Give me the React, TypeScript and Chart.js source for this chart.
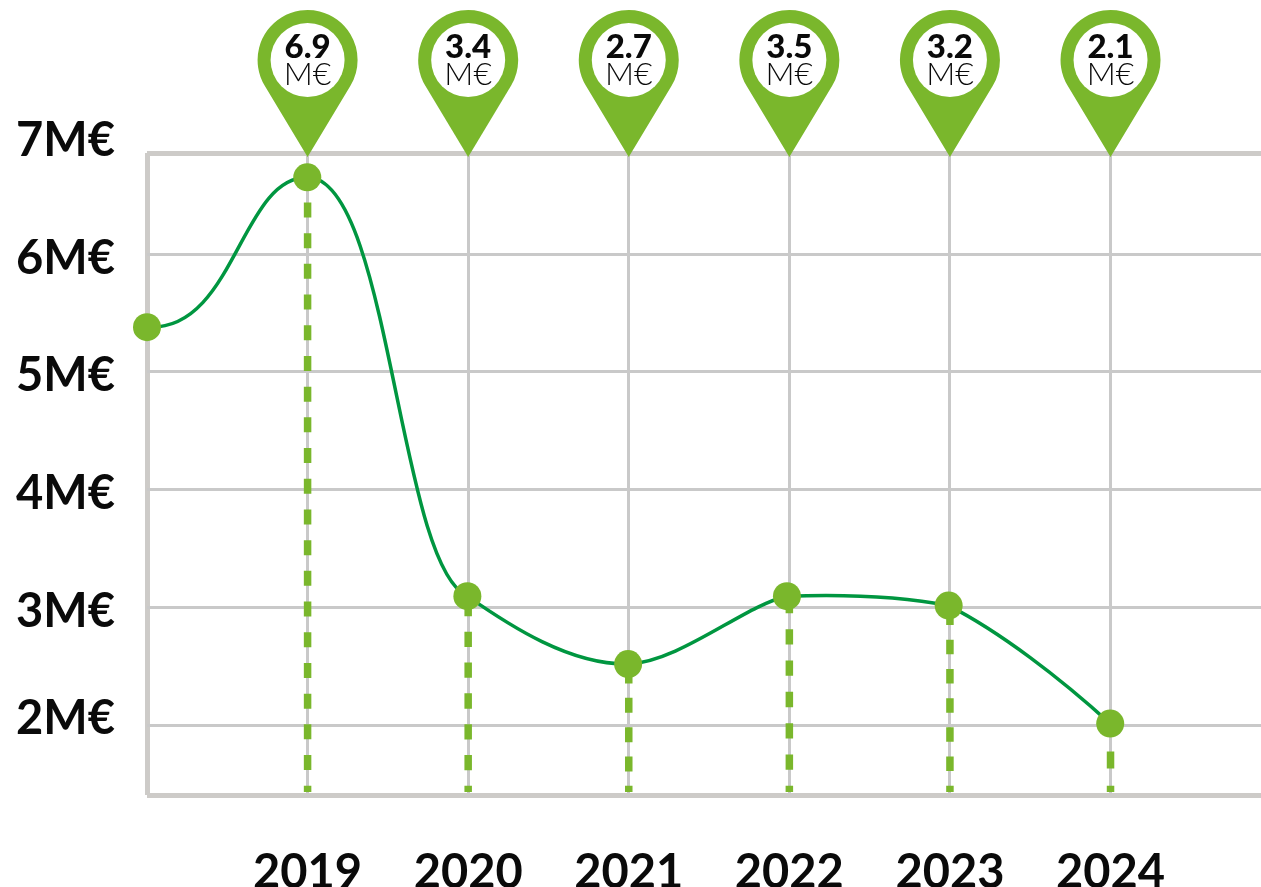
import React, { useEffect, useRef } from "react";
import { Chart, registerables } from "chart.js";

Chart.register(...registerables);

const years = ["2019", "2020", "2021", "2022", "2023", "2024"];
const gridPositions = [0, 1, 2, 3, 4, 5, 6];
const markerX = [0, 0.998, 1.995, 2.996, 3.985, 4.992, 5.998];
const markerY = [5.38, 6.65, 3.1, 2.525, 3.1, 3.02, 2.02];
// curve handles per segment, in data units
const handleOutX = [0.548, 1.513, 2.261, 3.319, 4.378, 5.312];
const handleOutY = [5.339, 6.653, 2.847, 2.542, 3.119, 2.797];
const handleInX = [0.579, 1.563, 2.634, 3.724, 4.72, 5.686];
const handleInY = [6.648, 3.364, 2.517, 3.025, 3.093, 2.407];
const dashOn = [15, 15.3, 15, 15.3, 14.5, 17];
const dashOff = [15.7, 15.5, 14.3, 16, 14.7, 17.3];
const pinLabels = ["6.9", "3.4", "2.7", "3.5", "3.2", "2.1"];
const gridValues = [2, 3, 4, 5, 6];
const yTickValues = [6.96, 5.96, 4.97, 3.97, 2.97, 2.06];
const yTickLabels = ["7M€", "6M€", "5M€", "4M€", "3M€", "2M€"];
const Y_MIN = 1.415;
const Y_DASH_BASE = 1.44;
const Y_TOP = 6.856;
const X_MAX = 6.937;

const GREEN = "#7ab72c";
const LINE = "#009640";
const GRID = "#c9c9c9";
const FRAME = "#cdcbc8";
const FONT = "Lato";

const handlePlugin = {
  id: "handles",
  beforeDatasetDraw(chart: any, args: any) {
    if (args.index !== 0) return;
    const { scales, chartArea } = chart;
    const line = args.meta.dataset;
    line.updateControlPoints(chartArea);
    const pts = args.meta.data;
    handleOutX.forEach((_, i) => {
      pts[i].cp2x = scales.x.getPixelForValue(handleOutX[i]);
      pts[i].cp2y = scales.y.getPixelForValue(handleOutY[i]);
      pts[i + 1].cp1x = scales.x.getPixelForValue(handleInX[i]);
      pts[i + 1].cp1y = scales.y.getPixelForValue(handleInY[i]);
    });
  },
};

const pinPlugin = {
  id: "pins",
  afterDatasetsDraw(chart: any) {
    const { ctx, scales } = chart;
    pinLabels.forEach((label, i) => {
      const x = scales.x.getPixelForValue(gridPositions[i + 1]);
      const cy = 60;
      const R = 50;
      const tip = 157;
      const ang = Math.acos(R / (tip - cy));
      ctx.save();
      ctx.fillStyle = GREEN;
      ctx.beginPath();
      ctx.moveTo(x, tip);
      ctx.arc(x, cy, R, Math.PI / 2 + ang, Math.PI / 2 - ang);
      ctx.closePath();
      ctx.fill();
      ctx.fillStyle = "#fff";
      ctx.beginPath();
      ctx.arc(x, cy, 37, 0, Math.PI * 2);
      ctx.fill();
      ctx.fillStyle = "#0a0a0a";
      ctx.textAlign = "center";
      ctx.textBaseline = "middle";
      ctx.font = `900 33px ${FONT}`;
      ctx.fillText(label, x, 47);
      ctx.font = `300 32px ${FONT}`;
      ctx.fillText("M€", x, 75);
      ctx.restore();
    });
  },
};

export default function App() {
  const ref = useRef<HTMLCanvasElement>(null);
  useEffect(() => {
    const dropSets = years.map((_, i) => ({
      data: [
        { x: gridPositions[i + 1], y: Y_DASH_BASE },
        { x: gridPositions[i + 1], y: markerY[i + 1] },
      ],
      borderColor: GREEN,
      borderWidth: 7.5,
      borderDash: [dashOn[i], dashOff[i]],
      borderDashOffset: dashOn[i] - 6.3,
      pointRadius: 0,
      tension: 0,
      clip: false,
      order: 3,
    }));
    const chart = new Chart(ref.current!, {
      type: "line",
      data: {
        datasets: [
          {
            data: markerX.map((x, i) => ({ x, y: markerY[i] })),
            borderColor: LINE,
            borderWidth: 3.5,
            tension: 0.4,
            pointRadius: 14,
            pointBackgroundColor: GREEN,
            pointBorderWidth: 0,
            clip: false,
            order: 1,
          },
          ...dropSets,
        ],
      },
      options: {
        responsive: false,
        animation: false,
        layout: { autoPadding: false, padding: { top: 153, right: 0, bottom: 0, left: 0 } },
        plugins: { legend: { display: false }, tooltip: { enabled: false } },
        scales: {
          x: {
            type: "linear",
            min: 0,
            max: X_MAX,
            afterBuildTicks: (a: any) => {
              a.ticks = gridPositions.map((value) => ({ value }));
            },
            afterFit: (a: any) => {
              a.height = 92;
              a.paddingLeft = 0;
              a.paddingRight = 0;
            },
            grid: {
              drawTicks: false,
              color: (c: any) => (c.tick && c.tick.value === 0 ? FRAME : GRID),
              lineWidth: (c: any) => (c.tick && c.tick.value === 0 ? 5 : 3),
            },
            border: { display: false },
            ticks: {
              autoSkip: false,
              maxRotation: 0,
              padding: 50,
              color: "#0a0a0a",
              font: { family: FONT, size: 47, weight: "bold" },
              callback: (v: any) => (v === 0 ? "" : years[v - 1]),
            },
          },
          y: {
            type: "linear",
            position: "left",
            min: Y_MIN,
            max: Y_TOP,
            afterBuildTicks: (a: any) => {
              a.ticks = [Y_MIN, ...gridValues, Y_TOP].map((value) => ({ value }));
            },
            afterFit: (a: any) => {
              a.width = 0;
              a.paddingTop = 0;
              a.paddingBottom = 0;
            },
            grid: {
              drawTicks: false,
              color: (c: any) =>
                c.tick && (c.tick.value === Y_MIN || c.tick.value === Y_TOP) ? FRAME : GRID,
              lineWidth: (c: any) =>
                c.tick && (c.tick.value === Y_MIN || c.tick.value === Y_TOP) ? 5 : 3,
            },
            border: { display: false },
            ticks: { display: false, autoSkip: false },
          },
          yLabels: {
            type: "linear",
            position: "left",
            min: Y_MIN,
            max: Y_TOP,
            afterBuildTicks: (a: any) => {
              a.ticks = yTickValues.map((value) => ({ value }));
            },
            afterFit: (a: any) => {
              a.width = 147;
              a.paddingTop = 0;
              a.paddingBottom = 0;
            },
            grid: { display: false, drawTicks: false },
            border: { display: false },
            ticks: {
              autoSkip: false,
              padding: 32,
              color: "#0a0a0a",
              font: { family: FONT, size: 47, weight: "bold" },
              callback: (v: any) => yTickLabels[yTickValues.indexOf(v)],
            },
          },
        },
      },
      plugins: [handlePlugin, pinPlugin],
    } as any);
    return () => chart.destroy();
  }, []);
  return (
    <div style={{ position: "fixed", left: 0, top: 0, width: 1261, height: 887, background: "#fff" }}>
      <canvas ref={ref} width={1261} height={887} style={{ display: "block" }} />
    </div>
  );
}
